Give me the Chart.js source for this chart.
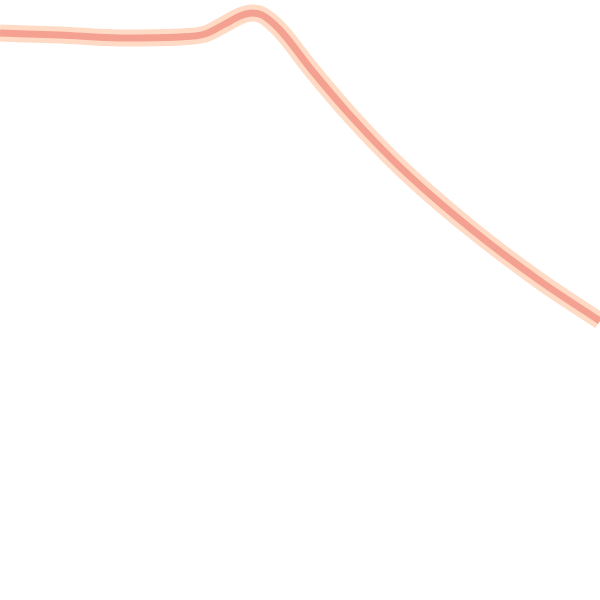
<!DOCTYPE html>
<html>
<head>
<meta charset="utf-8">
<script src="https://cdn.jsdelivr.net/npm/chart.js@4"></script>
<style>
html,body{margin:0;padding:0;background:#fff;}
#wrap{width:600px;height:600px;}
</style>
</head>
<body>
<div id="wrap"><canvas id="c" width="600" height="600"></canvas></div>
<script>
const xValues = [0, 60, 120, 180, 205, 225, 240, 252, 262, 280, 310, 350, 400, 470, 540, 600];
const yValues = [33, 35, 38, 37, 34, 24, 16, 13, 15, 30, 68, 115, 167, 228, 281, 321];

const points = xValues.map((x, i) => ({x: x, y: yValues[i]}));

new Chart(document.getElementById('c'), {
  type: 'line',
  data: {
    datasets: [
      {data: points, borderColor: '#f5a191', borderWidth: 7, pointRadius: 0, cubicInterpolationMode: 'monotone', fill: false, order: 1},
      {data: points, borderColor: '#ffdac4', borderWidth: 17, pointRadius: 0, cubicInterpolationMode: 'monotone', fill: false, order: 2}
    ]
  },
  options: {
    responsive: false,
    devicePixelRatio: 1,
    animation: false,
    clip: false,
    layout: {padding: 0},
    plugins: {legend: {display: false}, tooltip: {enabled: false}},
    scales: {
      x: {type: 'linear', display: false, min: 0, max: 600},
      y: {type: 'linear', display: false, min: 0, max: 600, reverse: true}
    }
  }
});
</script>
</body>
</html>
